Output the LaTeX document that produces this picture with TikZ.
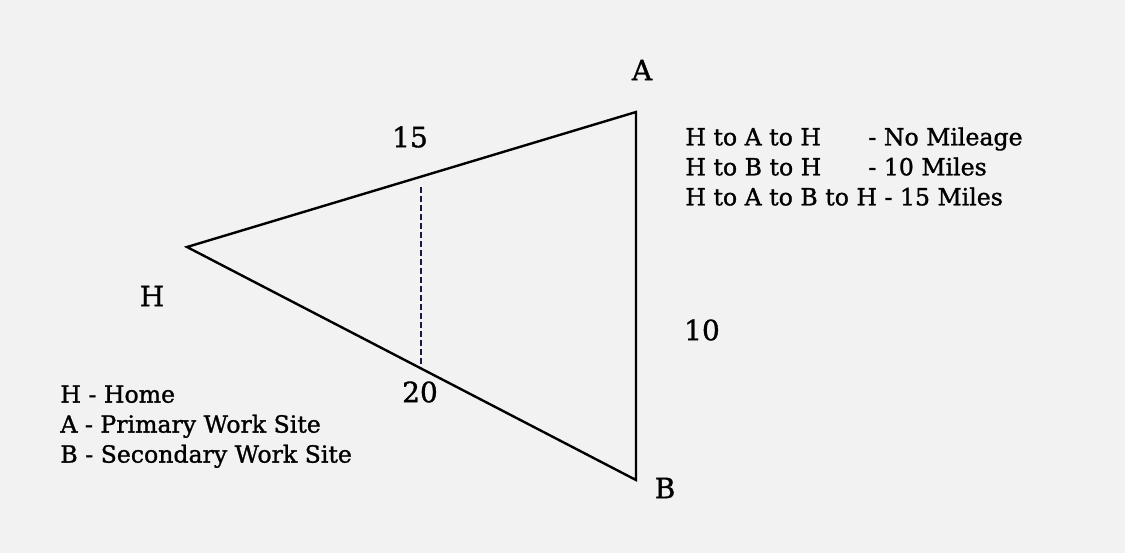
\documentclass[tikz,border=0pt]{standalone}
\usepackage{fontspec}
\setmainfont{DejaVu Serif}
\newfontfamily\schfont{DejaVu Serif}[FakeBold=1.2]
\usetikzlibrary{calc}

\begin{document}
\begin{tikzpicture}[
  x=0.5pt, y=-0.5pt,
  edge/.style={line width=1.2pt, line join=miter},
  cut/.style={line width=1.2pt, dash pattern=on 3pt off 1.5pt,
              draw={rgb,1:red,0.1;green,0.1;blue,0.25}},
  vlbl/.style={font=\schfont\fontsize{14}{16}\selectfont, inner sep=0pt},
  note/.style={font=\schfont\fontsize{11.8}{15}\selectfont, align=left,
              inner sep=0pt, anchor=north west},
]

\useasboundingbox[fill=black!5] (0,0) rectangle (1125,553);

% vertices of the trip
\coordinate (H) at (187,247);
\coordinate (A) at (636,112);
\coordinate (B) at (636,480);

\draw[edge] (H) -- (A) -- (B) -- cycle;

% split of the H-A leg
\coordinate (cuttop) at (421,187);
\coordinate (cutbot) at (421,364);
\draw[cut] (cuttop) -- (cutbot);

% vertex and distance labels
\node[vlbl] (labA) at (642,70) {A};
\node[vlbl] (labB) at (665,488) {B};
\node[vlbl] (labH) at (152,296) {H};
\node[vlbl] (d15) at (410,137) {15};
\node[vlbl] (d10) at (702,330) {10};
\node[vlbl] (d20) at (420,392) {20};

% mileage table
\node[note] (trips) at (685,127) {%
  \makebox[91.5pt][l]{H to A to H}- No Mileage\\
  \makebox[91.5pt][l]{H to B to H}- 10 Miles\\
  H to A to B to H - 15 Miles};

% legend
\node[note] (legend) at (60,385) {%
  H - Home\\
  A - Primary Work Site\\
  B - Secondary Work Site};

\end{tikzpicture}
\end{document}
